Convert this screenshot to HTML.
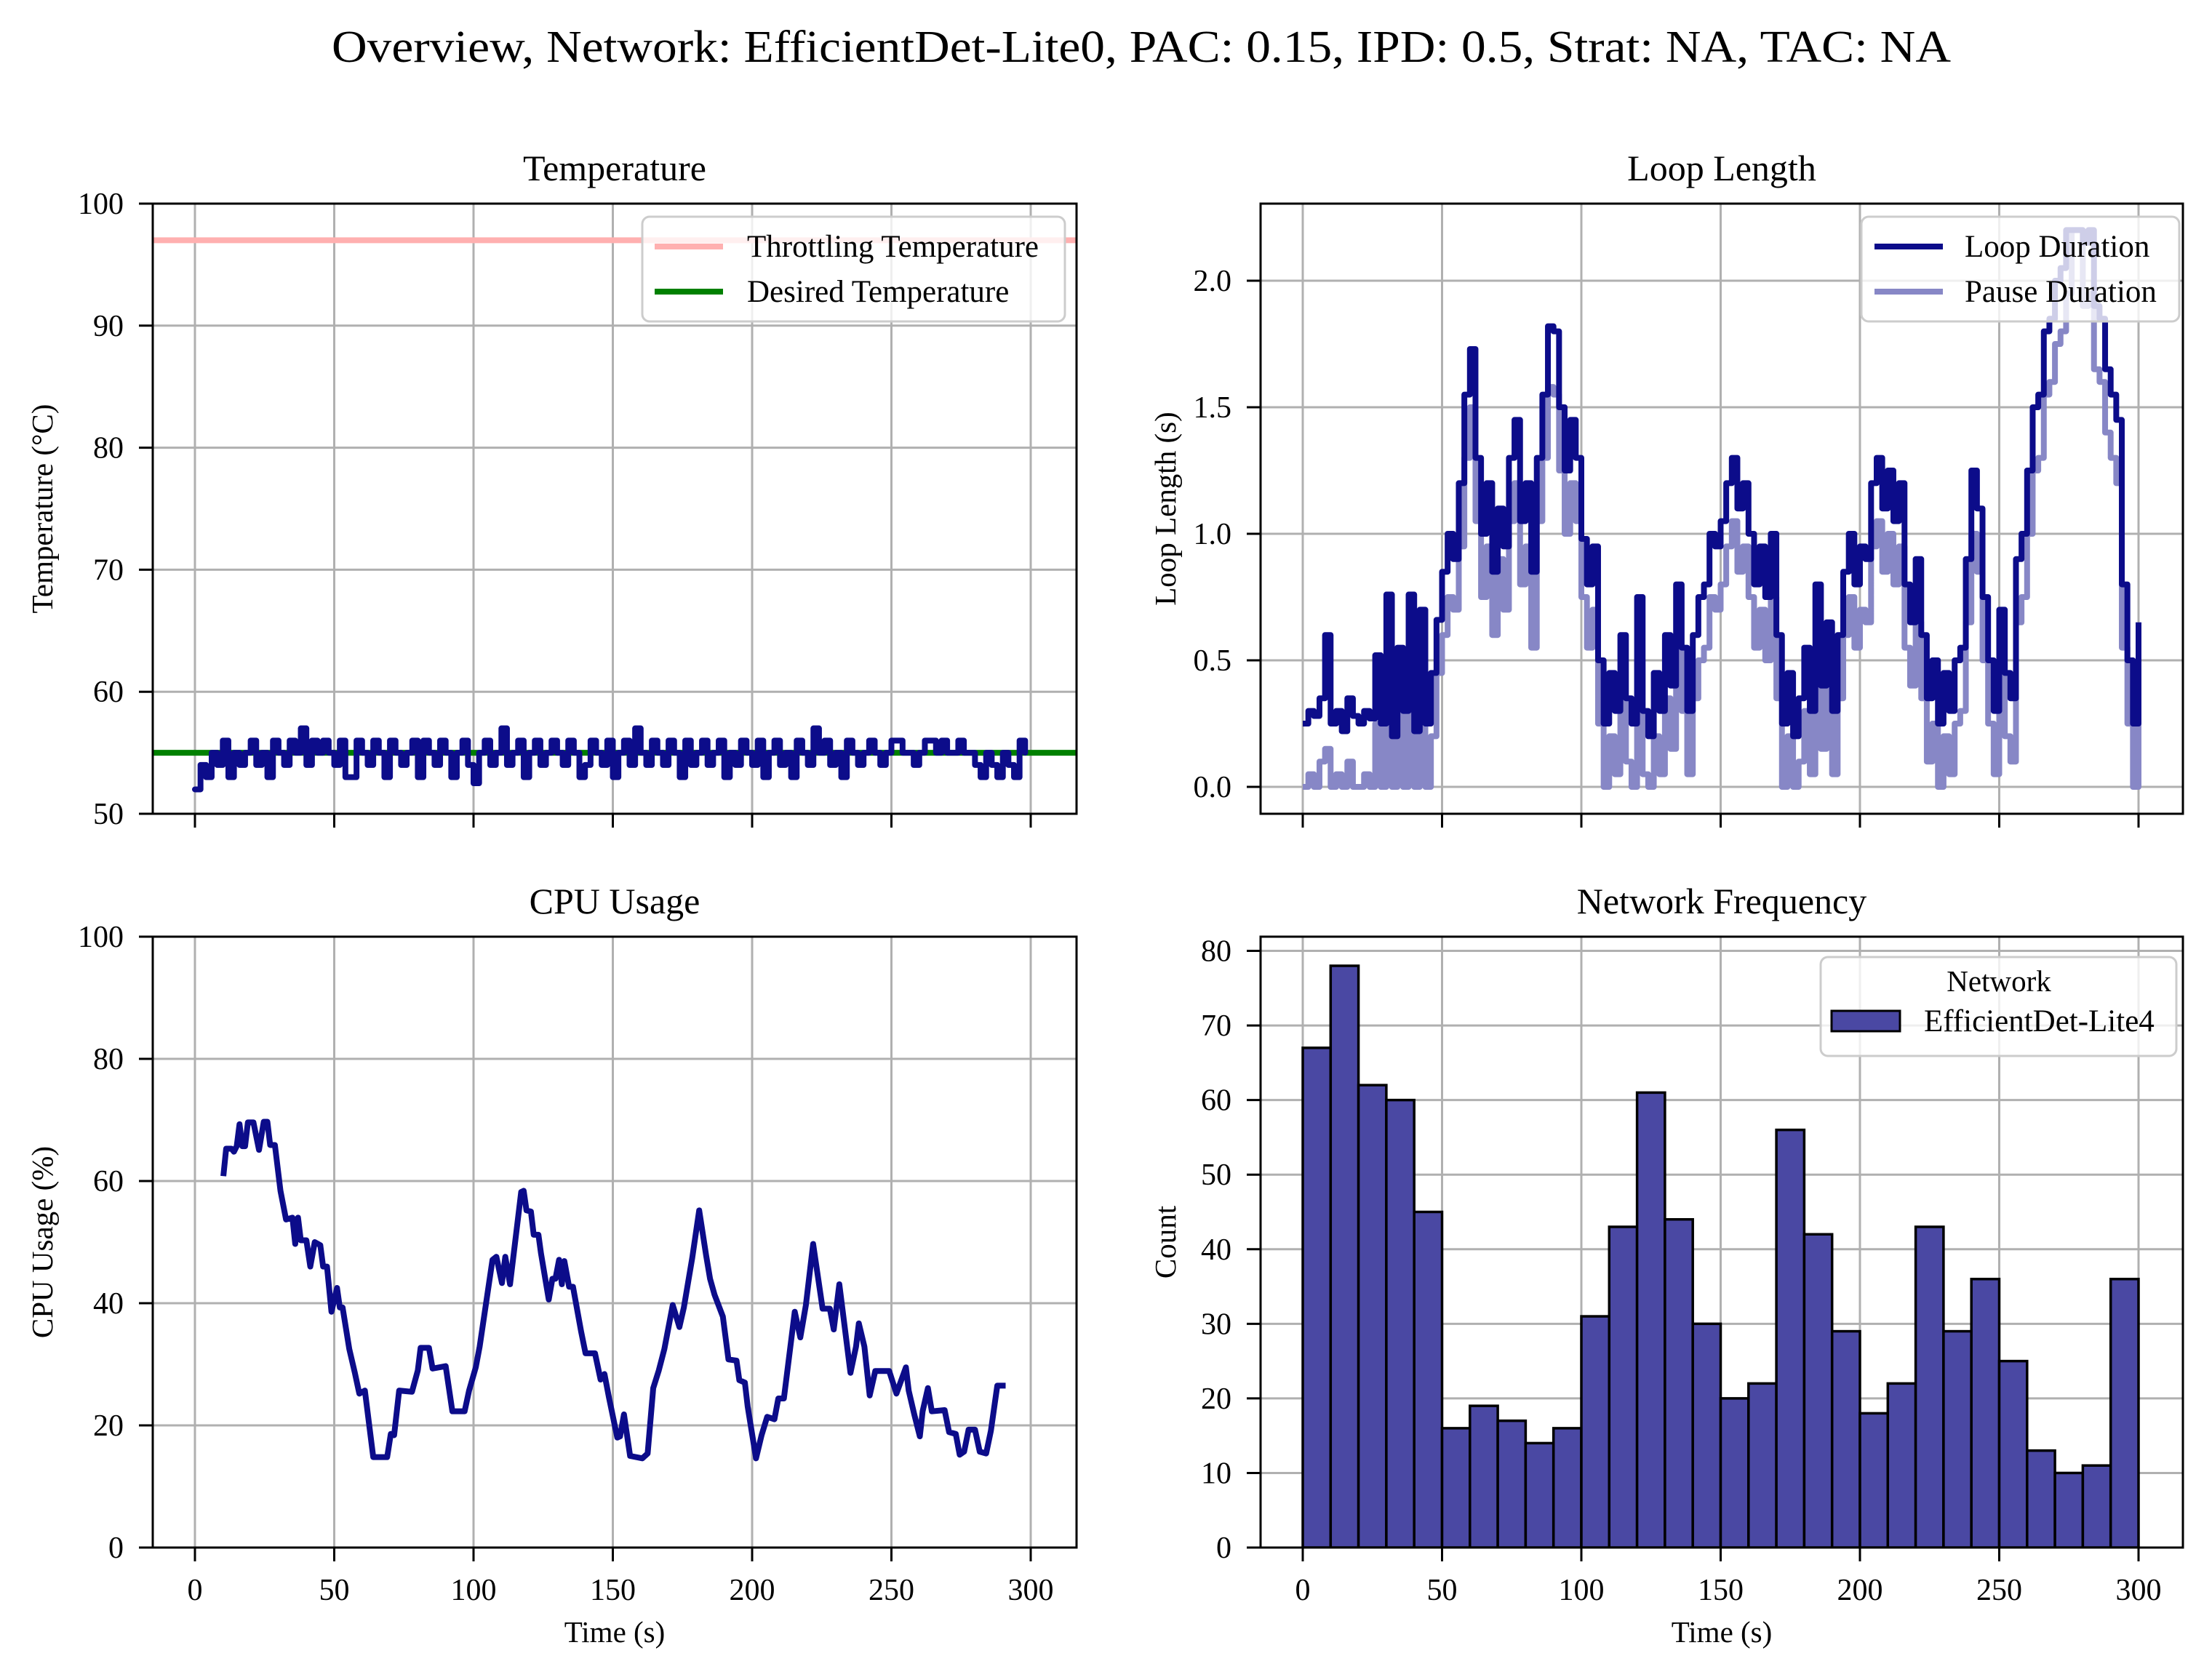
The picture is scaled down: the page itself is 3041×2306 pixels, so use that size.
<!DOCTYPE html>
<html><head><meta charset="utf-8"><style>
html,body{margin:0;padding:0;background:#fff;}
svg{display:block;font-family:"Liberation Serif","DejaVu Serif",serif;}
</style></head><body>
<svg id="fig" xmlns="http://www.w3.org/2000/svg" width="3041" height="2306" viewBox="0 0 3041 2306">
<rect width="3041" height="2306" fill="#fff"/>
<text x="456" y="85" font-size="62" textLength="2226" lengthAdjust="spacingAndGlyphs">Overview, Network: EfficientDet-Lite0, PAC: 0.15, IPD: 0.5, Strat: NA, TAC: NA</text>
<defs>
<clipPath id="cTL"><rect x="210" y="280" width="1270" height="839"/></clipPath>
<clipPath id="cTR"><rect x="1733" y="280" width="1268" height="839"/></clipPath>
<clipPath id="cBL"><rect x="210" y="1288" width="1270" height="840"/></clipPath>
<clipPath id="cBR"><rect x="1733" y="1288" width="1268" height="840"/></clipPath>
</defs>
<g id="root"></g>
</svg>
<script>
// ---------- data ----------
const tempValues = [
52,54,53,55,54,56,53,55,54,55,
56,54,55,53,56,55,54,56,55,57,
54,56,55,56,55,54,56,53,53,56,
55,54,56,55,53,56,55,54,55,56,
53,56,55,54,56,55,53,55,56,54,
52.5,55,56,54,55,57,54,55,56,53,
55,56,54,55,56,55,54,56,55,53,
54,56,55,54,56,53,55,56,54,57,
55,54,56,55,54,56,55,53,56,54,
55,56,54,55,56,53,55,54,56,55,
54,56,53,55,56,54,55,53,56,55,
54,57,55,56,54,55,53,56,55,54,
55,56,55,54,55,56,56,55,55,54,
55,56,56,55,56,55,55,56,55,55,
54,53,55,54,53,55,54,53,56,55];
const tempStep = 2;
const throttleTemp = 97;
const desiredTemp = 55;

const loopStep = 2;
const loopDuration = [
0.25,0.3,0.28,0.35,0.6,0.25,0.3,0.22,0.35,0.28,0.25,0.3,0.27,
0.52,0.25,0.76,0.2,0.55,0.3,0.76,0.22,0.7,0.25,0.45,
0.66,0.85,1.0,0.9,1.2,
1.55,1.73,
1.3,1.0,1.2,
0.85,1.1,0.95,1.3,1.45,1.05,1.2,0.85,
1.3,1.55,1.82,1.8,1.5,
1.25,1.45,1.3,
0.98,0.8,0.95,0.5,
0.25,0.45,0.3,0.6,0.35,0.25,0.75,0.3,
0.2,0.45,0.3,0.6,0.4,0.8,0.55,0.3,0.6,0.75,
0.8,1.0,0.95,1.05,
1.2,1.3,1.1,1.2,1.0,
0.8,0.95,0.75,1.0,0.6,
0.25,0.45,0.2,0.35,
0.55,0.3,0.8,0.4,0.65,0.3,0.6,
0.85,1.0,0.8,0.95,0.9,
1.2,1.3,1.1,1.25,1.05,1.2,
0.8,0.65,0.9,0.6,
0.35,0.5,0.25,0.45,0.3,0.5,0.55,
0.9,1.25,1.1,0.75,
0.5,0.3,0.7,0.45,0.35,
0.9,1.0,1.25,1.5,1.55,
1.8,1.85,2.0,2.05,
2.2,2.2,2.2,2.15,2.2,1.9,
1.85,1.65,1.55,1.45,
0.8,0.5,0.25,0.65];
const pauseDuration = [
0,0.05,0,0.1,0.15,0,0.05,0,0.1,0,0,0.05,0,
0.25,0,0.5,0,0.3,0,0.45,0,0.4,0,0.2,
0.45,0.6,0.75,0.7,0.95,
1.3,1.5,
1.05,0.75,0.95,
0.6,0.9,0.7,1.05,1.2,0.8,0.95,0.55,
1.05,1.3,1.58,1.55,1.25,
1.0,1.2,1.05,
0.75,0.55,0.7,0.25,
0,0.2,0.05,0.35,0.1,0,0.5,0.05,
0,0.2,0.05,0.35,0.15,0.55,0.3,0.05,0.35,0.5,
0.55,0.75,0.7,0.8,
0.95,1.05,0.85,0.95,0.75,
0.55,0.7,0.5,0.75,0.35,
0,0.2,0,0.1,
0.3,0.05,0.55,0.15,0.4,0.05,0.35,
0.6,0.75,0.55,0.7,0.65,
0.95,1.05,0.85,1.0,0.8,0.95,
0.55,0.4,0.65,0.35,
0.1,0.25,0,0.2,0.05,0.25,0.3,
0.65,1.0,0.85,0.5,
0.25,0.05,0.45,0.2,0.1,
0.65,0.75,1.0,1.25,1.3,
1.55,1.6,1.75,1.8,
1.95,2.2,2.2,1.9,1.95,1.65,
1.6,1.4,1.3,1.2,
0.55,0.25,0,0.45];

const cpuTimes = [10.2,11.2,13.1,14,15,16,17,18,19,21,23,24.7,26,27,28.7,30.7,32.7,35,36,37,38,40,41.4,43,45,46,47.4,49,51,52,53,55.4,57.4,59,61,64,69,70.3,71.5,73.3,77.9,80,81,84,85.3,90,92.4,96.8,98.4,100.8,102.2,106.8,108.2,110.2,111.4,113.1,117.1,118,119,120.6,121.6,123.3,124.2,127,128.3,129.4,130.7,131.7,132.6,134.3,135.7,138.6,140.2,143.6,145.6,147,148.6,151.6,152.6,154,156.2,160.6,162.5,164.5,166.5,168.5,171.5,173.9,175.5,178.5,181,183.5,184.9,186.5,189.5,191.5,194.4,195.4,197.4,198.4,201.4,203.4,205.4,208,209.4,211.4,215.3,217.3,219.3,221.9,225.3,227.9,229.3,231.3,235.3,237.3,238.3,240.3,242.2,244.2,249.2,251.8,255.2,256.2,258.2,260.2,261.2,263.1,264.5,269.1,270.7,273.1,274.5,276.1,277.7,280,281.7,284,285.7,288,291];
const cpuValues = [60.8,65.3,65.3,64.8,65.7,69.3,65.7,65.7,69.6,69.6,65.1,69.7,69.7,65.9,65.9,58.4,53.7,54,49.7,54,50.3,50.3,46,50,49.5,46,46,38.6,42.5,39.3,39.3,32.5,28.6,25.2,25.7,14.8,14.8,18.6,18.4,25.7,25.5,29,32.7,32.7,29.3,29.7,22.3,22.3,25.7,29.5,32.9,47.1,47.6,43.3,47.6,43.1,58.2,58.4,55.2,55,51.2,51.2,48.2,40.6,44,44,47.1,43.1,46.9,42.7,42.7,35.4,31.8,31.8,27.5,28.4,24.6,18,18.2,21.8,15,14.6,15.4,26.1,29,32.5,39.7,36.1,39.3,47.4,55.2,47.8,44,41.4,37.8,30.8,30.6,27.4,27,23.1,14.6,18.4,21.4,21,24.4,24.4,38.6,34.4,39.7,49.7,39.1,39.1,35.7,43.1,28.6,32.9,36.7,32.9,24.9,28.9,28.9,25.2,29.5,25.7,21.8,18.2,22.3,26.1,22.3,22.5,18.9,18.6,15.2,15.7,19.3,19.3,15.7,15.4,19.1,26.5,26.5];

const histBinEdgesStart = 0;
const histBinWidth = 10;
const histCounts = [67,78,62,60,45,16,19,17,14,16,31,43,61,44,30,20,22,56,42,29,18,22,43,29,36,25,13,10,11,36];

const timeTicks = [0,50,100,150,200,250,300];
const tempTicks = [50,60,70,80,90,100];
const loopTicks = [0.0,0.5,1.0,1.5,2.0];
const cpuTicks = [0,20,40,60,80,100];
const countTicks = [0,10,20,30,40,50,60,70,80];

// ---------- axes ----------
const NS = "http://www.w3.org/2000/svg";
const root = document.getElementById('root');
function el(tag, attrs, parent){
  const e = document.createElementNS(NS, tag);
  for (const k in attrs) e.setAttribute(k, attrs[k]);
  (parent||root).appendChild(e);
  return e;
}
const PX = 3.83;
const xL = t => 268 + t*PX;
const xR = t => 1791 + t*PX;
const yTemp = v => 1119 - (v-50)*16.78;
const yLoop = v => 1082 - v*348;
const yCpu = v => 2128 - v*8.4;
const yCnt = v => 2128 - v*10.256;
const LW = 8;

const panels = [
  {name:'temperature', x0:210, x1:1480, y0:280, y1:1119, xf:xL, yf:yTemp, yt:tempTicks, fmt:v=>String(v), title:'Temperature', ylabel:'Temperature (°C)', ylx:58, xlab:false, clip:'cTL'},
  {name:'loop-length', x0:1733, x1:3001, y0:280, y1:1119, xf:xR, yf:yLoop, yt:loopTicks, fmt:v=>v.toFixed(1), title:'Loop Length', ylabel:'Loop Length (s)', ylx:1602, xlab:false, clip:'cTR'},
  {name:'cpu-usage', x0:210, x1:1480, y0:1288, y1:2128, xf:xL, yf:yCpu, yt:cpuTicks, fmt:v=>String(v), title:'CPU Usage', ylabel:'CPU Usage (%)', ylx:58, xlab:true, clip:'cBL'},
  {name:'network-frequency', x0:1733, x1:3001, y0:1288, y1:2128, xf:xR, yf:yCnt, yt:countTicks, fmt:v=>String(v), title:'Network Frequency', ylabel:'Count', ylx:1602, xlab:true, clip:'cBR'}
];

panels.forEach(p=>{
  const g = el('g', {});
  
  
  p.g = g;
  timeTicks.forEach(t=>{
    const x = p.xf(t);
    const gl = el('line', {x1:x, x2:x, y1:p.y0, y2:p.y1, stroke:'#b0b0b0', 'stroke-width':3}, g);
    
    
    const tk = el('line', {x1:x, x2:x, y1:p.y1, y2:p.y1+19, stroke:'#000', 'stroke-width':3}, g);
    
    
    if (p.xlab){
      const tl = el('text', {x:x, y:p.y1+72, 'font-size':42, 'text-anchor':'middle'}, g);
      tl.textContent = String(t);
      
      
    }
  });
  p.yt.forEach(v=>{
    const y = p.yf(v);
    const gl = el('line', {x1:p.x0, x2:p.x1, y1:y, y2:y, stroke:'#b0b0b0', 'stroke-width':3}, g);
    
    
    const tk = el('line', {x1:p.x0-19, x2:p.x0, y1:y, y2:y, stroke:'#000', 'stroke-width':3}, g);
    
    
    const tl = el('text', {x:p.x0-40, y:y+14, 'font-size':42, 'text-anchor':'end'}, g);
    tl.textContent = p.fmt(v);
    
    
  });
  const tt = el('text', {x:(p.x0+p.x1)/2, y:p.y0-32, 'font-size':50, 'text-anchor':'middle'}, g);
  tt.textContent = p.title;
  
  
  const cy = (p.y0+p.y1)/2;
  const yl = el('text', {x:p.ylx, y:cy, 'font-size':41, 'text-anchor':'middle', transform:`rotate(-90 ${p.ylx} ${cy})`, dy:14}, g);
  yl.textContent = p.ylabel;
  
  
  if (p.xlab){
    const xl = el('text', {x:(p.x0+p.x1)/2, y:p.y1+130, 'font-size':41, 'text-anchor':'middle'}, g);
    xl.textContent = 'Time (s)';
    
    
  }
  p.data = el('g', {'clip-path':`url(#${p.clip})`}, g);
});

function stepPath(times, vals, xf, yf){
  let d = '';
  for (let i=0;i<vals.length;i++){
    const x = xf(times[i]), y = yf(vals[i]);
    if (i===0) d += `M${x},${y}`;
    else d += `H${x}V${y}`;
  }
  return d;
}
function linePath(times, vals, xf, yf){
  return vals.map((v,i)=>(i?'L':'M')+xf(times[i])+','+yf(v)).join('');
}

{
  const p = panels[0];
  const y1 = yTemp(throttleTemp);
  const th = el('line', {x1:p.x0, x2:p.x1, y1:y1, y2:y1, stroke:'#ffb0b0', 'stroke-width':LW}, p.data);
  
  
  const y2 = yTemp(desiredTemp);
  const de = el('line', {x1:p.x0, x2:p.x1, y1:y2, y2:y2, stroke:'#008000', 'stroke-width':LW}, p.data);
  
  
  const times = tempValues.map((v,i)=>i*tempStep);
  const tl = el('path', {d:stepPath(times, tempValues, xL, yTemp), fill:'none', stroke:'#0c0c8a', 'stroke-width':LW, 'stroke-linejoin':'round', 'stroke-linecap':'round'}, p.data);
  
  
}
{
  const p = panels[1];
  const times = loopDuration.map((v,i)=>i*loopStep);
  const pl = el('path', {d:stepPath(times, pauseDuration, xR, yLoop), fill:'none', stroke:'#8787c6', 'stroke-width':LW, 'stroke-linejoin':'round'}, p.data);
  
  
  const ll = el('path', {d:stepPath(times, loopDuration, xR, yLoop), fill:'none', stroke:'#0c0c8a', 'stroke-width':LW, 'stroke-linejoin':'round'}, p.data);
  
  
}
{
  const p = panels[2];
  const cl = el('path', {d:linePath(cpuTimes, cpuValues, xL, yCpu), fill:'none', stroke:'#0c0c8a', 'stroke-width':LW, 'stroke-linejoin':'round'}, p.data);
  
  
}
{
  const p = panels[3];
  histCounts.forEach((c,i)=>{
    const t0 = histBinEdgesStart + i*histBinWidth;
    const xa = xR(t0), xb = xR(t0+histBinWidth);
    const r = el('rect', {x:xa, y:yCnt(c), width:xb-xa, height:yCnt(0)-yCnt(c), fill:'#4a48a3', stroke:'#000', 'stroke-width':3.5}, p.data);
    
    
  });
}
panels.forEach(p=>{
  const s = el('rect', {x:p.x0, y:p.y0, width:p.x1-p.x0, height:p.y1-p.y0, fill:'none', stroke:'#000', 'stroke-width':3}, p.g);
  
  
});

function legendBox(x,y,w,h,name){
  const b = el('rect', {x:x, y:y, width:w, height:h, rx:10, fill:'#fff', 'fill-opacity':0.8, stroke:'#cccccc', 'stroke-width':3});
  
  
}
function legendLine(x,y,color,label,tx){
  const g = el('g', {});
  
  
  el('line', {x1:x, x2:x+94, y1:y, y2:y, stroke:color, 'stroke-width':LW}, g);
  const t = el('text', {x:tx, y:y+14, 'font-size':43}, g);
  t.textContent = label;
}
legendBox(883,298,581,144,'temperature-legend');
legendLine(900,339,'#ffb0b0','Throttling Temperature',1027);
legendLine(900,401,'#008000','Desired Temperature',1027);
legendBox(2559,298,437,144,'loop-legend');
legendLine(2577,339,'#0c0c8a','Loop Duration',2701);
legendLine(2577,401,'#8787c6','Pause Duration',2701);
legendBox(2503,1316,489,136,'network-legend');
{
  const t = el('text', {x:2748, y:1363, 'font-size':41, 'text-anchor':'middle'});
  t.textContent = 'Network';
  
  
  const g = el('g', {});
  
  
  el('rect', {x:2518, y:1390, width:94, height:28, fill:'#4a48a3', stroke:'#000', 'stroke-width':3}, g);
  const l = el('text', {x:2645, y:1418, 'font-size':43}, g);
  l.textContent = 'EfficientDet-Lite4';
}
</script>
</body></html>
